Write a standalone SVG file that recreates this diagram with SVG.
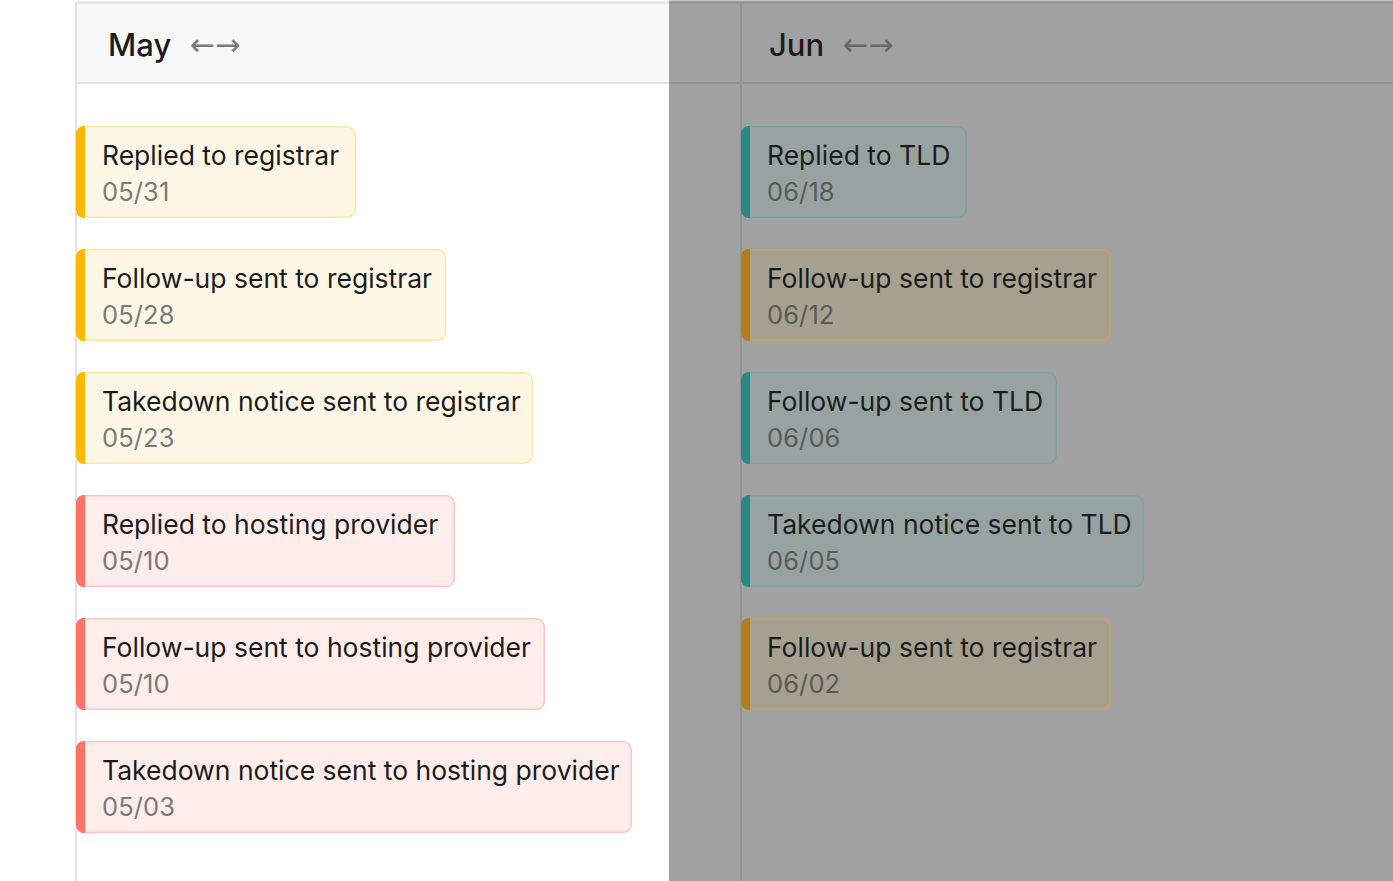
<svg xmlns="http://www.w3.org/2000/svg" width="1393" height="881" viewBox="0 0 1393 881">
<style>
.title{font-family:Inter,"Liberation Sans",sans-serif;font-size:26.5px;fill:#1b1b1b}
.date{font-family:Inter,"Liberation Sans",sans-serif;font-size:25.5px;letter-spacing:0.1px;fill:#7a7a7a}
.month{font-family:Inter,"Liberation Sans",sans-serif;font-size:31px;font-weight:500;fill:#1b1b1b}
.arrow{font-family:"DejaVu Sans",sans-serif;font-size:30px;fill:#7a7a7a}
.yel .bg{fill:#fff7e6;stroke:#fde6a6;stroke-width:1.5}
.yel .acc{fill:#ffb800}
.red .bg{fill:#ffedeb;stroke:#fdc8c1;stroke-width:1.5}
.red .acc{fill:#ff7367}
.teal .bg{fill:#97a3a1;stroke:#84a09c;stroke-width:1.5}
.teal .acc{fill:#2a8984}
.gold .bg{fill:#a6a091;stroke:#bba56c;stroke-width:1.5}
.gold .acc{fill:#b07f17}
.dk .title{fill:#1c1c1c}
.dk .date{fill:#5a5a5a}
.dk .month{fill:#1c1c1c}
.dk .arrow{fill:#686868}
</style>
<defs>
<path id="acc" d="M9,0 H8 A8,8 0 0 0 0,8 V84 A8,8 0 0 0 8,92 H9 Z"/>
</defs>
<rect width="1393" height="881" fill="#ffffff"/>
<g id="may-column">
<rect x="77" y="3" width="592" height="79.5" fill="#f8f8f8"/>
<line x1="76" y1="2.5" x2="669" y2="2.5" stroke="#e2e2e2" stroke-width="2"/>
<line x1="77" y1="83" x2="669" y2="83" stroke="#e2e2e2" stroke-width="2"/>
<line x1="76" y1="2" x2="76" y2="881" stroke="#e2e2e2" stroke-width="2"/>
<text class="month" x="108" y="56">May</text>
<text class="arrow" x="190" y="55">←→</text>
</g>
<g id="jun-column" class="dk">
<rect x="669" y="0" width="724" height="881" fill="#a1a1a1"/>
<rect x="669" y="0" width="724" height="1.5" fill="#c4c4c4"/>
<line x1="669" y1="2.5" x2="1393" y2="2.5" stroke="#8f8f8f" stroke-width="2"/>
<line x1="669" y1="83" x2="1393" y2="83" stroke="#939393" stroke-width="2"/>
<line x1="741" y1="2" x2="741" y2="881" stroke="#939393" stroke-width="2"/>
<text class="month" x="769" y="56">Jun</text>
<text class="arrow" x="843" y="55">←→</text>
</g>
<g id="connectors"></g>
<g id="may-1" class="yel" transform="translate(76,126)">
<rect class="bg" x="0.75" y="0.75" width="278.5" height="90.5" rx="8"/><use href="#acc" class="acc"/>
<text class="title" x="26" y="39">Replied to registrar</text><text class="date" x="26" y="75">05/31</text>
</g>
<g id="may-2" class="yel" transform="translate(76,249)">
<rect class="bg" x="0.75" y="0.75" width="368.5" height="90.5" rx="8"/><use href="#acc" class="acc"/>
<text class="title" x="26" y="39">Follow-up sent to registrar</text><text class="date" x="26" y="75">05/28</text>
</g>
<g id="may-3" class="yel" transform="translate(76,372)">
<rect class="bg" x="0.75" y="0.75" width="455.5" height="90.5" rx="8"/><use href="#acc" class="acc"/>
<text class="title" x="26" y="39">Takedown notice sent to registrar</text><text class="date" x="26" y="75">05/23</text>
</g>
<g id="may-4" class="red" transform="translate(76,495)">
<rect class="bg" x="0.75" y="0.75" width="377.5" height="90.5" rx="8"/><use href="#acc" class="acc"/>
<text class="title" x="26" y="39">Replied to hosting provider</text><text class="date" x="26" y="75">05/10</text>
</g>
<g id="may-5" class="red" transform="translate(76,618)">
<rect class="bg" x="0.75" y="0.75" width="467.5" height="90.5" rx="8"/><use href="#acc" class="acc"/>
<text class="title" x="26" y="39">Follow-up sent to hosting provider</text><text class="date" x="26" y="75">05/10</text>
</g>
<g id="may-6" class="red" transform="translate(76,741)">
<rect class="bg" x="0.75" y="0.75" width="554.5" height="90.5" rx="8"/><use href="#acc" class="acc"/>
<text class="title" x="26" y="39">Takedown notice sent to hosting provider</text><text class="date" x="26" y="75">05/03</text>
</g>
<g id="jun-1" class="teal dk" transform="translate(741,126)">
<rect class="bg" x="0.75" y="0.75" width="224.5" height="90.5" rx="8"/><use href="#acc" class="acc"/>
<text class="title" x="26" y="39">Replied to TLD</text><text class="date" x="26" y="75">06/18</text>
</g>
<g id="jun-2" class="gold dk" transform="translate(741,249)">
<rect class="bg" x="0.75" y="0.75" width="368.5" height="90.5" rx="8"/><use href="#acc" class="acc"/>
<text class="title" x="26" y="39">Follow-up sent to registrar</text><text class="date" x="26" y="75">06/12</text>
</g>
<g id="jun-3" class="teal dk" transform="translate(741,372)">
<rect class="bg" x="0.75" y="0.75" width="314.5" height="90.5" rx="8"/><use href="#acc" class="acc"/>
<text class="title" x="26" y="39">Follow-up sent to TLD</text><text class="date" x="26" y="75">06/06</text>
</g>
<g id="jun-4" class="teal dk" transform="translate(741,495)">
<rect class="bg" x="0.75" y="0.75" width="401.5" height="90.5" rx="8"/><use href="#acc" class="acc"/>
<text class="title" x="26" y="39">Takedown notice sent to TLD</text><text class="date" x="26" y="75">06/05</text>
</g>
<g id="jun-5" class="gold dk" transform="translate(741,618)">
<rect class="bg" x="0.75" y="0.75" width="368.5" height="90.5" rx="8"/><use href="#acc" class="acc"/>
<text class="title" x="26" y="39">Follow-up sent to registrar</text><text class="date" x="26" y="75">06/02</text>
</g>
</svg>
